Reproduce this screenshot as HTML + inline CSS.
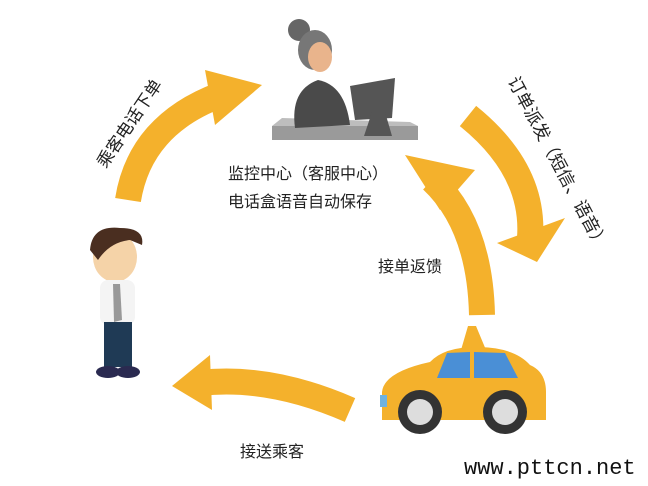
<!DOCTYPE html>
<html><head><meta charset="utf-8"><style>
html,body{margin:0;padding:0;background:#fff;}
body{width:648px;height:486px;position:relative;overflow:hidden;font-family:"Liberation Sans","Noto Sans CJK SC",sans-serif;}
.t{position:absolute;color:#222;font-size:16px;white-space:nowrap;}
</style></head><body>
<svg width="648" height="486" style="position:absolute;left:0;top:0">
<g fill="none" stroke="#F4B12C" stroke-width="26" stroke-linecap="butt">
<path d="M128 200 Q140 125 220 95"/>
<path d="M468 116 Q535 170 530 238"/>
<path d="M482 315 Q480 225 432 180"/>
<path d="M350 410 Q270 375 200 383"/>
</g>
<g fill="#F4B12C">
<polygon points="205,70 262,85 215,125"/>
<polygon points="497,243 565,218 537,262"/>
<polygon points="405,155 475,170 440,210"/>
<polygon points="172,386 210,355 212,410"/>
</g>
<rect x="272" y="126" width="146" height="14" fill="#9a9a9a"/>
<polygon points="272,126 418,126 410,122 282,118" fill="#bdbdbd"/>
<circle cx="299" cy="30" r="11" fill="#666"/>
<ellipse cx="315" cy="50" rx="17" ry="20" fill="#777"/>
<ellipse cx="320" cy="57" rx="12" ry="15" fill="#e9b48c"/>
<path d="M295 128 Q290 90 318 80 Q345 85 350 125 Z" fill="#4a4a4a"/>
<polygon points="350,86 395,78 392,118 355,120" fill="#555"/>
<polygon points="372,112 385,112 392,136 364,136" fill="#555"/>
<ellipse cx="115" cy="257" rx="22" ry="25" fill="#f5d3a8"/>
<path d="M90 250 Q92 225 120 228 Q145 228 142 245 L130 240 Q110 242 98 260 Z" fill="#4a2e20"/>
<rect x="100" y="280" width="35" height="45" rx="8" fill="#f4f4f4"/>
<polygon points="113,284 120,284 122,320 114,322" fill="#999"/>
<rect x="104" y="322" width="28" height="45" fill="#1f3a55"/>
<ellipse cx="108" cy="372" rx="12" ry="6" fill="#2a2a50"/>
<ellipse cx="128" cy="372" rx="12" ry="6" fill="#2a2a50"/>
<polygon points="461,350 468,326 476,326 486,350" fill="#F4B12C"/>
<path d="M382 392 Q384 372 430 362 Q445 346 480 347 Q515 348 530 365 Q546 372 546 392 L546 420 L382 420 Z" fill="#F4B12C"/>
<polygon points="437,378 447,353 470,352 470,378" fill="#4a8fd6"/>
<polygon points="474,352 505,353 518,378 474,378" fill="#4a8fd6"/>
<rect x="380" y="395" width="7" height="12" fill="#6fb2e0"/>
<circle cx="420" cy="412" r="22" fill="#333"/><circle cx="420" cy="412" r="13" fill="#ddd"/>
<circle cx="505" cy="412" r="22" fill="#333"/><circle cx="505" cy="412" r="13" fill="#ddd"/>
</svg>
<div class="t" style="left:228px;top:160px">监控中心（客服中心）</div>
<div class="t" style="left:228px;top:188px">电话盒语音自动保存</div>
<div class="t" style="left:378px;top:253px">接单返馈</div>
<div class="t" style="left:240px;top:438px">接送乘客</div>
<div class="t" style="left:77px;top:110px;font-size:17px;transform:rotate(-56deg);transform-origin:center">乘客电话下单</div>
<div class="t" style="left:462px;top:150px;font-size:17.5px;transform:rotate(62deg);transform-origin:center">订单派发（短信、语音）</div>
<div class="t" style="left:464px;top:456px;font-family:'Liberation Mono',monospace;font-size:22px;color:#111">www.pttcn.net</div>
</body></html>
